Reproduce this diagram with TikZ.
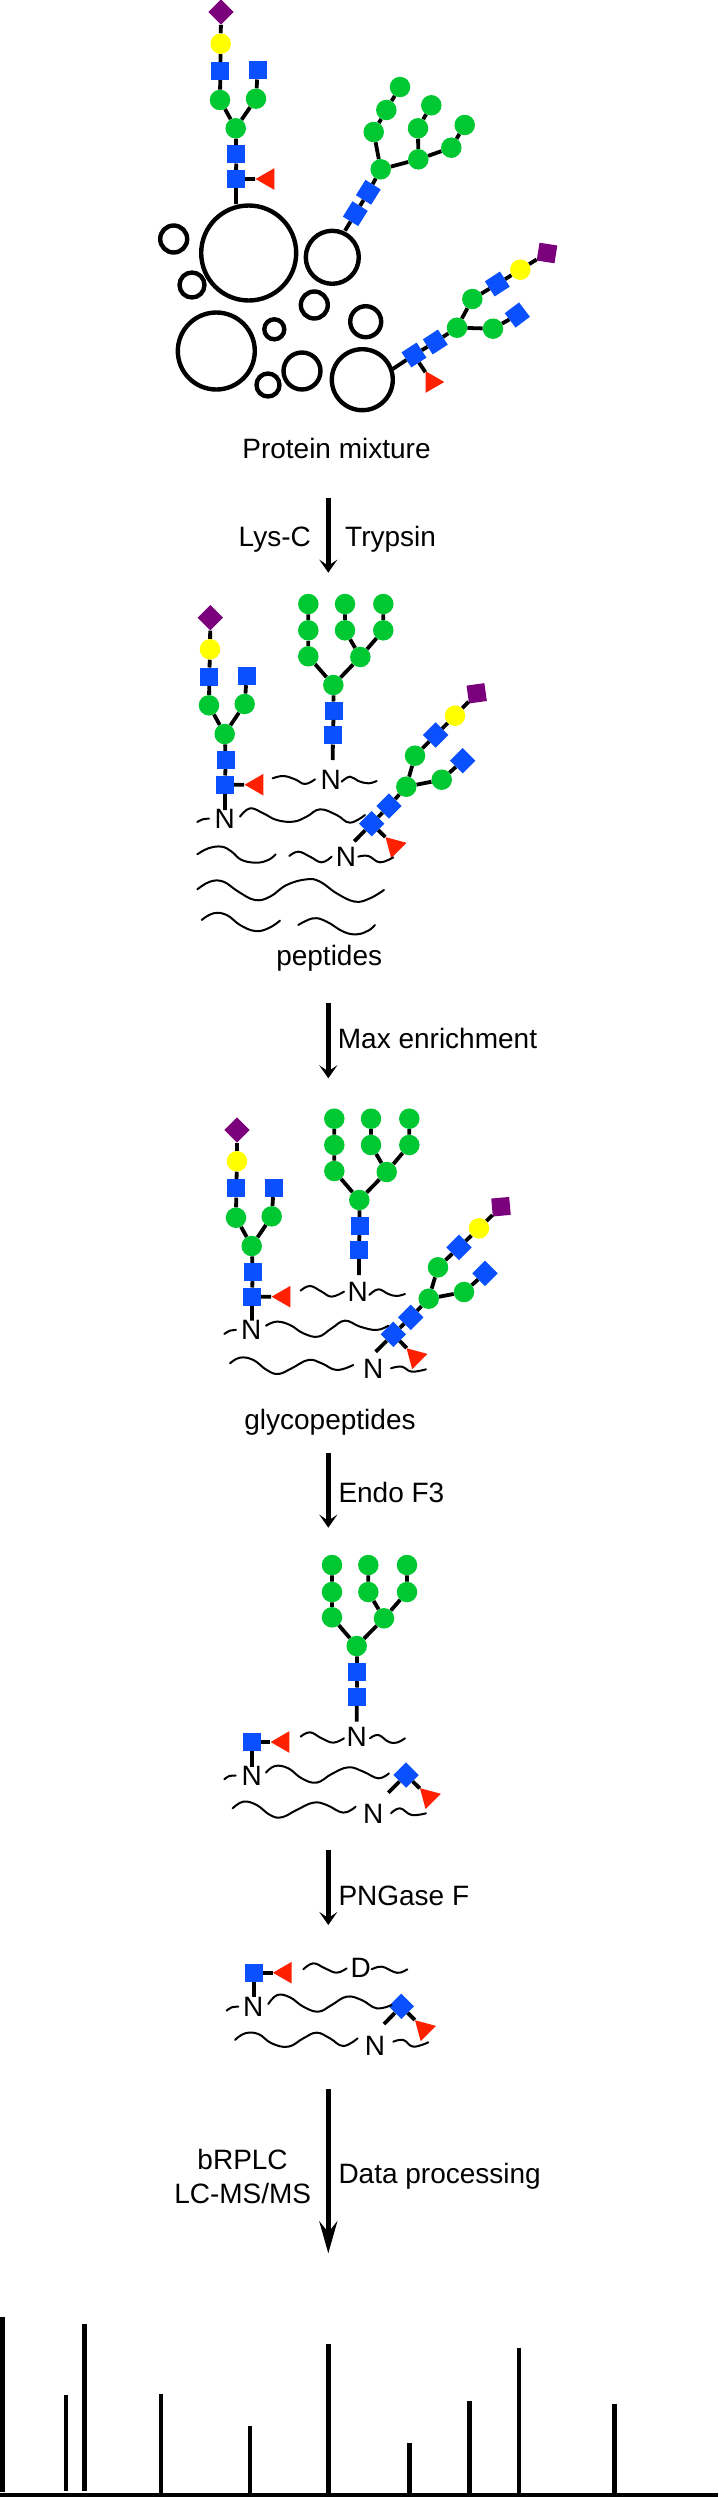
\documentclass[tikz,border=0pt]{standalone}
\usepackage{fontspec}
\setmainfont{Liberation Sans}
\usetikzlibrary{shapes.geometric,arrows.meta}
\definecolor{gcgreen}{RGB}{0,200,50}
\definecolor{gcblue}{RGB}{10,80,255}
\definecolor{gcyellow}{RGB}{255,255,0}
\definecolor{gcred}{RGB}{255,32,0}
\definecolor{gcpurple}{RGB}{123,0,123}
\tikzset{
  gr/.style={circle,fill=gcgreen,inner sep=0pt,minimum size=20.5pt},
  ye/.style={circle,fill=gcyellow,inner sep=0pt,minimum size=20.5pt},
  bl/.style={rectangle,fill=gcblue,inner sep=0pt,minimum size=18pt},
  pu/.style={rectangle,fill=gcpurple,inner sep=0pt,minimum size=18pt},
  re/.style={regular polygon,regular polygon sides=3,fill=gcred,inner sep=0pt,minimum size=25pt},
  ring/.style={circle,draw=black,line width=4.4pt,inner sep=0pt,fill=none},
  edge/.style={draw=black,line width=3.8pt},
  pep/.style={draw=black,line width=2pt,line cap=round},
  flow/.style={draw=black,line width=4.5pt,-{Stealth[length=13pt,width=18pt,inset=6pt]}},
  flowlong/.style={draw=black,line width=4.5pt,-{Stealth[length=32pt,width=18pt,inset=11pt]}},
  lbl/.style={font=\fontsize{28}{34}\selectfont,inner sep=0pt,text=black},
  bar/.style={draw=black,line width=4.5pt},
}
\newcommand\Gn[2]{\node[gr] (#1) at (#2) {};}
\newcommand\Yl[2]{\node[ye] (#1) at (#2) {};}
\newcommand\Bl[3][0]{\node[bl,rotate=#1] (#2) at (#3) {};}
\newcommand\Pu[3][45]{\node[pu,rotate=#1] (#2) at (#3) {};}
\newcommand\Tr[3]{\node[re,shape border rotate=#1] (#2) at (#3) {};}
\newcommand\Rg[3]{\node[ring,minimum size=#3pt] (#1) at (#2) {};}
\newcommand\Wv[1]{\draw[pep] plot[smooth,tension=.7] coordinates {#1};}
\begin{document}
\begin{tikzpicture}[x=1pt,y=-1pt]
\path[use as bounding box,fill=white] (0,0) rectangle (718,2497);

% ---------- protein mixture
\Rg{c1}{248.7,253}{95}
\Rg{c2}{173.7,239}{27}
\Rg{c3}{192,285}{25}
\Rg{c4}{332.3,257.3}{53}
\Rg{c5}{314.3,305}{27}
\Rg{c6}{365.7,321.7}{31}
\Rg{c7}{216.3,351}{77}
\Rg{c8}{274.3,329.3}{20}
\Rg{c9}{302,371}{37}
\Rg{c10}{268,385}{23}
\Rg{c11}{362.3,379.7}{61}

\Pu{a1d}{221,12}
\Yl{a1y}{220.7,43.7}
\Bl{a1b1}{220.3,71}
\Bl{a1b2}{257.7,70.3}
\Gn{a1g1}{220,100}
\Gn{a1g2}{256,98.7}
\Gn{a1g3}{235.7,128.3}
\Bl{a1b3}{236.3,154.3}
\Bl{a1b4}{236,179}
\Tr{90}{a1t}{268.1,179}
\coordinate (a1s) at (236,204);
\draw[edge] (a1d)--(a1y) (a1y)--(a1b1) (a1b1)--(a1g1) (a1b2)--(a1g2) (a1g1)--(a1g3) (a1g2)--(a1g3) (a1g3)--(a1b3) (a1b3)--(a1b4) (a1b4)--(a1t) (a1b4)--(a1s);

\Bl[58]{b1b1}{355.3,213.7}
\Bl[58]{b1b2}{368.3,192.3}
\Gn{b1g1}{380.7,169.3}
\Gn{b1g2}{418.3,159.3}
\Gn{b1g3}{373.7,132}
\Gn{b1g4}{386.3,110}
\Gn{b1g5}{400,87}
\Gn{b1g6}{418,128.3}
\Gn{b1g7}{431.3,105.3}
\Gn{b1g8}{451.3,147.7}
\Gn{b1g9}{464.7,125}
\coordinate (b1s) at (345,230.7);
\draw[edge] (b1s)--(b1b1) (b1b1)--(b1b2) (b1b2)--(b1g1) (b1g1)--(b1g2) (b1g1)--(b1g3) (b1g3)--(b1g4) (b1g4)--(b1g5) (b1g2)--(b1g6) (b1g6)--(b1g7) (b1g2)--(b1g8) (b1g8)--(b1g9);

\Bl[33]{e1b1}{414,355}
\Bl[33]{e1b2}{435.3,342}
\Gn{e1g1}{457,327.7}
\Gn{e1g2}{472.3,299}
\Bl[33]{e1b3}{497.3,284}
\Yl{e1y}{520.3,269.7}
\Pu[-9]{e1p}{547,253}
\Gn{e1g3}{493,328.7}
\Bl[37]{e1b4}{517.3,315}
\Tr{-90}{e1t}{431.8,382}
\coordinate (e1s) at (392.7,369);
\draw[edge] (e1s)--(e1b1) (e1b1)--(e1b2) (e1b2)--(e1g1) (e1g1)--(e1g2) (e1g2)--(e1b3) (e1b3)--(e1y) (e1y)--(e1p) (e1g1)--(e1g3) (e1g3)--(e1b4) (e1b1)--(e1t);

\node[lbl,anchor=base] (tprot) at (336.5,458.6) {Protein mixture};

% ---------- step 1
\coordinate (ar1s) at (328.3,498.3);
\coordinate (ar1e) at (328.3,572.7);
\draw[flow] (ar1s)--(ar1e);
\node[lbl,anchor=base east] (tlys) at (311,546.7) {Lys-C};
\node[lbl,anchor=base west] (ttry) at (345,546.7) {Trypsin};

% ---------- peptides
\Pu{a2d}{210.3,617.7}
\Yl{a2y}{210,649.3}
\Bl{a2b1}{209.3,676.7}
\Bl{a2b2}{246.7,676}
\Gn{a2g1}{209,705.3}
\Gn{a2g2}{244.7,704}
\Gn{a2g3}{224.7,734}
\Bl{a2b3}{225.7,760}
\Bl{a2b4}{225,784.7}
\Tr{90}{a2t}{257.1,784.7}
\node[lbl,anchor=base] (a2n) at (224.7,828.3) {N};
\coordinate (a2s) at (225,810);
\draw[edge] (a2d)--(a2y) (a2y)--(a2b1) (a2b1)--(a2g1) (a2b2)--(a2g2) (a2g1)--(a2g3) (a2g2)--(a2g3) (a2g3)--(a2b3) (a2b3)--(a2b4) (a2b4)--(a2t) (a2b4)--(a2s);

\Gn{b2g1}{308.3,604}
\Gn{b2g2}{345,604}
\Gn{b2g3}{383.3,604}
\Gn{b2g4}{308.3,630.3}
\Gn{b2g5}{345,630.3}
\Gn{b2g6}{383.3,630.3}
\Gn{b2g7}{308.3,656.3}
\Gn{b2g8}{360.3,657}
\Gn{b2g9}{333.3,685}
\Bl{b2b1}{333.7,710.7}
\Bl{b2b2}{333,735.3}
\coordinate (b2s) at (332.7,760);
\node[lbl,anchor=base] (b2n) at (330.7,789.3) {N};
\draw[edge] (b2g1)--(b2g4) (b2g2)--(b2g5) (b2g3)--(b2g6) (b2g4)--(b2g7) (b2g5)--(b2g8) (b2g6)--(b2g8) (b2g7)--(b2g9) (b2g8)--(b2g9) (b2g9)--(b2b1) (b2b1)--(b2b2) (b2b2)--(b2s);

\Bl[45]{e2b1}{371.7,823.7}
\Bl[45]{e2b2}{389,806}
\Gn{e2g1}{406.3,786.7}
\Gn{e2g2}{415,755.7}
\Bl[45]{e2b3}{435.7,735}
\Yl{e2y}{455,715.7}
\Pu[8]{e2p}{476.7,693.3}
\Gn{e2g3}{441.7,779.7}
\Bl[45]{e2b4}{462.7,760.7}
\Tr{45}{e2t}{394.4,846}
\coordinate (e2s) at (354.3,841.3);
\node[lbl,anchor=base] (e2n) at (346,866.7) {N};
\draw[edge] (e2s)--(e2b1) (e2b1)--(e2b2) (e2b2)--(e2g1) (e2g1)--(e2g2) (e2g2)--(e2b3) (e2b3)--(e2y) (e2y)--(e2p) (e2g1)--(e2g3) (e2g3)--(e2b4) (e2b1)--(e2t);

\begin{scope}[shift={(180,700)},x=0.3333pt,y=-0.3333pt]
\Wv{(278,235)(310,228)(345,238)(375,252)(405,238)}
\Wv{(485,245)(510,230)(535,243)(565,250)(590,243)}
\Wv{(52,366)(68,358)(87,356)}
\Wv{(180,350)(210,325)(250,340)(290,360)(340,365)(380,350)(420,328)(470,345)(510,368)(555,345)}
\Wv{(52,463)(85,445)(125,440)(155,455)(185,480)(230,488)(265,480)(287,463)}
\Wv{(328,468)(355,455)(390,470)(425,487)(455,470)}
\Wv{(535,470)(565,468)(600,487)(640,472)}
\Wv{(52,568)(90,545)(130,545)(175,575)(225,600)(270,590)(320,555)(380,538)(420,545)(470,580)(525,605)(570,595)(612,570)}
\Wv{(65,660)(100,640)(140,645)(180,675)(225,693)(265,685)(300,662)}
\Wv{(355,675)(400,655)(440,665)(490,695)(530,703)(565,692)(585,675)}
\end{scope}
\node[lbl,anchor=base] (tpep) at (329.2,965.7) {peptides};

% ---------- step 2
\coordinate (ar2s) at (328.3,1003.3);
\coordinate (ar2e) at (328.3,1078.3);
\draw[flow] (ar2s)--(ar2e);
\node[lbl,anchor=base west] (tmax) at (337.7,1048.3) {Max enrichment};

% ---------- glycopeptides
\Pu{a3d}{237,1130}
\Yl{a3y}{237,1161.3}
\Bl{a3b1}{236.3,1188.3}
\Bl{a3b2}{273.7,1188}
\Gn{a3g1}{236,1217.7}
\Gn{a3g2}{271.7,1216.3}
\Gn{a3g3}{251.7,1246}
\Bl{a3b3}{252.7,1272}
\Bl{a3b4}{252,1296.7}
\Tr{90}{a3t}{284.1,1296.7}
\node[lbl,anchor=base] (a3n) at (251.3,1339.3) {N};
\coordinate (a3s) at (252,1320.7);
\draw[edge] (a3d)--(a3y) (a3y)--(a3b1) (a3b1)--(a3g1) (a3b2)--(a3g2) (a3g1)--(a3g3) (a3g2)--(a3g3) (a3g3)--(a3b3) (a3b3)--(a3b4) (a3b4)--(a3t) (a3b4)--(a3s);

\Gn{b3g1}{334.3,1118.7}
\Gn{b3g2}{371,1118.7}
\Gn{b3g3}{409.3,1118.7}
\Gn{b3g4}{334.3,1145}
\Gn{b3g5}{371,1145}
\Gn{b3g6}{409.3,1145}
\Gn{b3g7}{334.3,1171}
\Gn{b3g8}{386.7,1172}
\Gn{b3g9}{359.3,1200}
\Bl{b3b1}{359.7,1226}
\Bl{b3b2}{359,1250}
\coordinate (b3s) at (359,1275);
\node[lbl,anchor=base] (b3n) at (357.7,1301.7) {N};
\draw[edge] (b3g1)--(b3g4) (b3g2)--(b3g5) (b3g3)--(b3g6) (b3g4)--(b3g7) (b3g5)--(b3g8) (b3g6)--(b3g8) (b3g7)--(b3g9) (b3g8)--(b3g9) (b3g9)--(b3b1) (b3b1)--(b3b2) (b3b2)--(b3s);

\Bl[45]{e3b1}{393.3,1334.3}
\Bl[45]{e3b2}{410.7,1317.3}
\Gn{e3g1}{428.7,1298.7}
\Gn{e3g2}{438,1267.3}
\Bl[45]{e3b3}{459,1247.3}
\Yl{e3y}{479,1228.3}
\Pu[5]{e3p}{501,1206.7}
\Gn{e3g3}{464,1292}
\Bl[45]{e3b4}{485,1273.3}
\Tr{45}{e3t}{415.4,1357.1}
\coordinate (e3s) at (375.7,1351.7);
\node[lbl,anchor=base] (e3n) at (373.3,1378.3) {N};
\draw[edge] (e3s)--(e3b1) (e3b1)--(e3b2) (e3b2)--(e3g1) (e3g1)--(e3g2) (e3g2)--(e3b3) (e3b3)--(e3y) (e3y)--(e3p) (e3g1)--(e3g3) (e3g3)--(e3b4) (e3b1)--(e3t);

\begin{scope}[shift={(180,980)},x=0.3333pt,y=-0.3333pt]
\Wv{(362,932)(390,918)(425,935)(455,950)(492,935)}
\Wv{(568,945)(595,928)(625,942)(650,948)(675,942)}
\Wv{(133,1062)(150,1052)(168,1050)}
\Wv{(258,1037)(290,1025)(330,1035)(370,1060)(415,1070)(455,1045)(495,1022)(540,1040)(590,1050)(625,1037)}
\Wv{(150,1150)(180,1133)(220,1140)(260,1170)(295,1182)(335,1165)(385,1140)(425,1150)(470,1170)(520,1155)}
\Wv{(633,1165)(665,1160)(695,1175)(738,1168)}
\end{scope}
\node[lbl,anchor=base] (tgly) at (330,1429.3) {glycopeptides};

% ---------- step 3
\coordinate (ar3s) at (328.3,1452.7);
\coordinate (ar3e) at (328.3,1527.7);
\draw[flow] (ar3s)--(ar3e);
\node[lbl,anchor=base west] (tend) at (338.3,1502.7) {Endo F3};

% ---------- after Endo F3
\Gn{b4g1}{332,1565}
\Gn{b4g2}{368.3,1565}
\Gn{b4g3}{407,1565}
\Gn{b4g4}{332,1592}
\Gn{b4g5}{368.3,1592}
\Gn{b4g6}{407,1592}
\Gn{b4g7}{332,1617.3}
\Gn{b4g8}{384,1618.3}
\Gn{b4g9}{356.7,1646}
\Bl{b4b1}{357.3,1672}
\Bl{b4b2}{356.7,1696.7}
\coordinate (b4s) at (356.7,1721.7);
\node[lbl,anchor=base] (b4n) at (356.7,1746.7) {N};
\draw[edge] (b4g1)--(b4g4) (b4g2)--(b4g5) (b4g3)--(b4g6) (b4g4)--(b4g7) (b4g5)--(b4g8) (b4g6)--(b4g8) (b4g7)--(b4g9) (b4g8)--(b4g9) (b4g9)--(b4b1) (b4b1)--(b4b2) (b4b2)--(b4s);

\Bl{a4b}{251.7,1742}
\Tr{90}{a4t}{283.1,1742}
\coordinate (a4s) at (251.7,1766.7);
\node[lbl,anchor=base] (a4n) at (251.7,1785) {N};
\draw[edge] (a4b)--(a4t) (a4b)--(a4s);

\Bl[45]{e4b}{406,1775}
\Tr{45}{e4t}{428.8,1797}
\coordinate (e4s) at (388.3,1792.7);
\node[lbl,anchor=base] (e4n) at (373.3,1823.3) {N};
\draw[edge] (e4s)--(e4b) (e4b)--(e4t);

\begin{scope}[shift={(190,1420)},x=0.3333pt,y=-0.3333pt]
\Wv{(332,950)(360,937)(395,955)(430,968)(462,955)}
\Wv{(540,955)(565,945)(595,965)(620,968)(645,955)}
\Wv{(103,1078)(118,1068)(137,1067)}
\Wv{(228,1058)(255,1038)(295,1045)(335,1075)(380,1088)(425,1062)(475,1042)(520,1055)(565,1075)(597,1060)}
\Wv{(128,1165)(160,1145)(200,1155)(240,1185)(275,1192)(320,1170)(370,1148)(410,1155)(460,1178)(497,1160)}
\Wv{(603,1180)(630,1165)(665,1185)(708,1180)}
\end{scope}

% ---------- step 4
\coordinate (ar4s) at (328.3,1850);
\coordinate (ar4e) at (328.3,1925);
\draw[flow] (ar4s)--(ar4e);
\node[lbl,anchor=base west] (tpng) at (338.3,1905) {PNGase F};

% ---------- after PNGase F
\Bl{a5b}{254,1972.7}
\Tr{90}{a5t}{285.4,1972.7}
\coordinate (a5s) at (254,1996.7);
\node[lbl,anchor=base] (a5n) at (253.3,2016) {N};
\draw[edge] (a5b)--(a5t) (a5b)--(a5s);
\node[lbl,anchor=base] (a5d) at (360.7,1977.7) {D};

\Bl[45]{e5b}{401.3,2006.3}
\Tr{45}{e5t}{423.9,2029.1}
\coordinate (e5s) at (384,2024);
\node[lbl,anchor=base] (e5n) at (375,2055) {N};
\draw[edge] (e5s)--(e5b) (e5b)--(e5t);

\begin{scope}[shift={(190,1830)},x=0.3333pt,y=-0.3333pt]
\Wv{(340,418)(370,400)(405,415)(440,428)(470,415)}
\Wv{(545,418)(575,410)(610,425)(630,428)(652,418)}
\Wv{(110,542)(125,532)(145,530)}
\Wv{(235,522)(262,495)(300,502)(340,530)(385,545)(425,525)(470,500)(515,510)(560,535)(605,525)}
\Wv{(135,630)(165,610)(205,612)(245,640)(295,650)(340,625)(380,608)(420,625)(460,648)(503,625)}
\Wv{(610,635)(640,630)(670,650)(715,637)}
\end{scope}

% ---------- step 5
\coordinate (ar5s) at (328.3,2089);
\coordinate (ar5e) at (328.3,2253.3);
\draw[flowlong] (ar5s)--(ar5e);
\node[lbl,anchor=base] (tbrp) at (242.6,2169.3) {bRPLC};
\node[lbl,anchor=base] (tlcm) at (242.7,2203.3) {LC-MS/MS};
\node[lbl,anchor=base west] (tdat) at (338.3,2183.3) {Data processing};

% ---------- spectrum
\draw[draw=black,line width=4pt] (0,2494.8) -- (718,2494.8);
\foreach \x/\t/\b in {2.7/2316.7/2491.7,66/2395/2490.7,84.7/2324.3/2490.7,161.2/2394/2494,250/2425.7/2494,328.3/2344.3/2494,409.3/2443.3/2494,469.3/2401/2494,518.8/2347.7/2494,614.5/2404.3/2494}
  \draw[bar] (\x,\t) -- (\x,\b);
\end{tikzpicture}
\end{document}
